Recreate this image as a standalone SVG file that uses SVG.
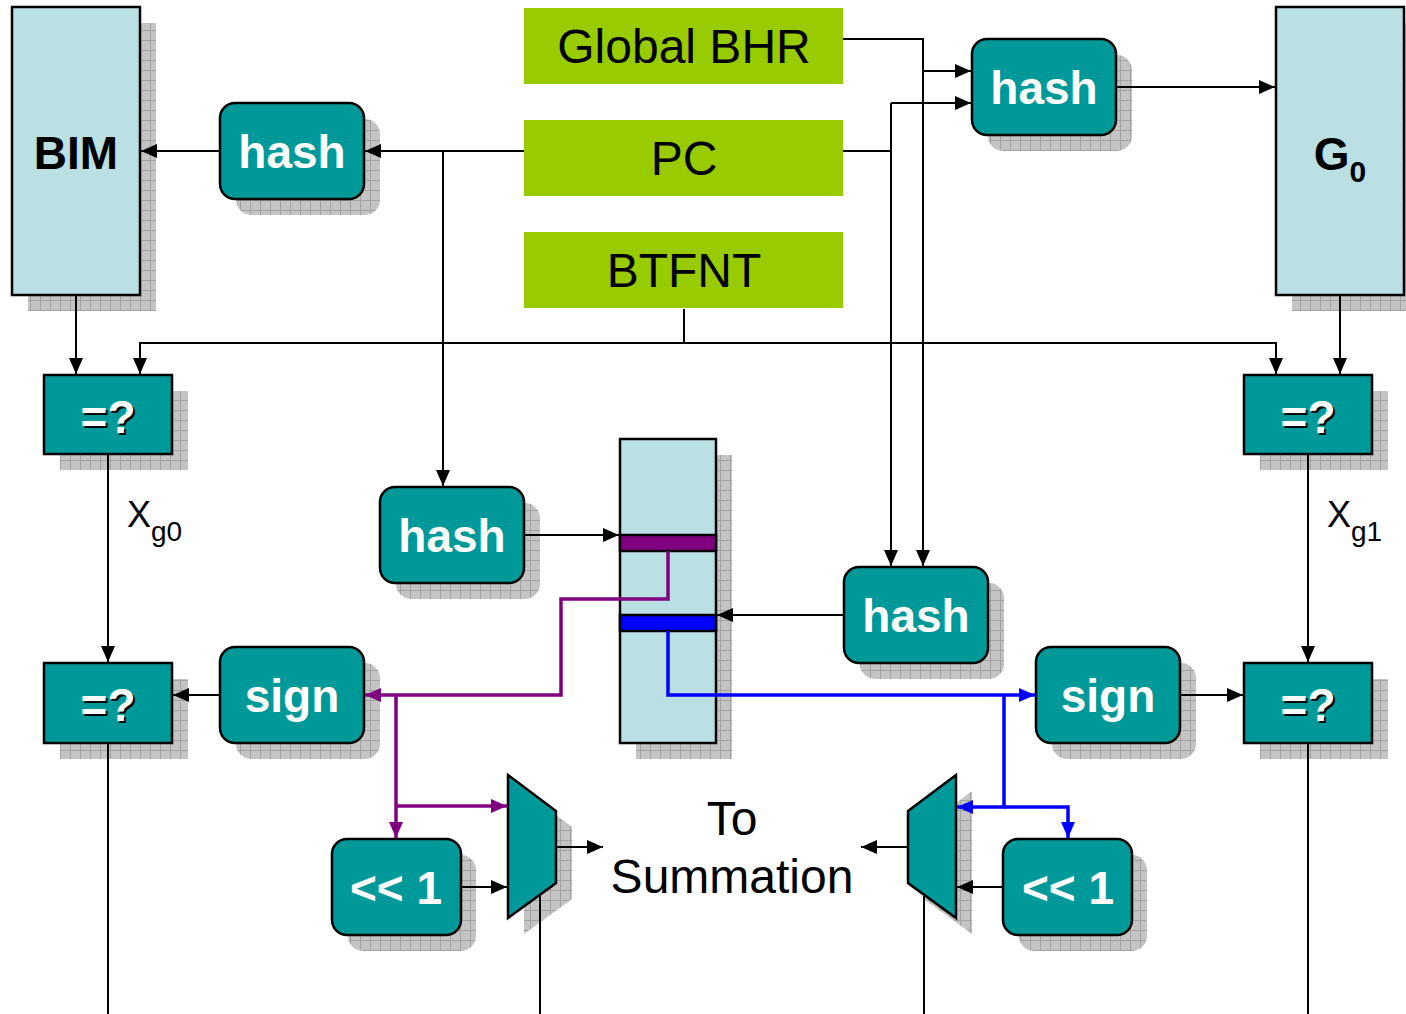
<svg xmlns="http://www.w3.org/2000/svg" width="1406" height="1014" viewBox="0 0 1406 1014">
<defs>
<pattern id="grid" patternUnits="userSpaceOnUse" width="10" height="10">
<rect width="10" height="10" fill="#c4c4c4"/>
<path d="M0,0.5 H10 M0.5,0 V10" stroke="#a2a2a2" stroke-width="1"/>
</pattern>
<marker id="ak" markerUnits="userSpaceOnUse" markerWidth="16" markerHeight="14" refX="16" refY="7" orient="auto"><path d="M0,0 L16,7 L0,14 z" fill="#000"/></marker>
<marker id="ap" markerUnits="userSpaceOnUse" markerWidth="16" markerHeight="14" refX="16" refY="7" orient="auto"><path d="M0,0 L16,7 L0,14 z" fill="#800080"/></marker>
<marker id="ab" markerUnits="userSpaceOnUse" markerWidth="16" markerHeight="14" refX="16" refY="7" orient="auto"><path d="M0,0 L16,7 L0,14 z" fill="#0000ff"/></marker>
</defs>
<style>
.sh{fill:url(#grid)}
.mem{fill:#bae0e3;stroke:#000;stroke-width:2.5}
.blk{fill:#009999;stroke:#000;stroke-width:2.5}
.src{fill:#99cc00}
.wt{font-family:"Liberation Sans",Arial,sans-serif;font-weight:bold;font-size:46px;fill:#fff;text-anchor:middle}
.bt{font-family:"Liberation Sans",Arial,sans-serif;font-weight:bold;font-size:46px;fill:#000;text-anchor:middle}
.rt{font-family:"Liberation Sans",Arial,sans-serif;font-size:48px;fill:#000;text-anchor:middle}
.lbl{font-family:"Liberation Sans",Arial,sans-serif;font-size:36px;fill:#000}
.eq{font-family:"Liberation Sans",Arial,sans-serif;font-weight:bold;font-size:46px;text-anchor:middle}
.c{fill:none;stroke:#000;stroke-width:2}
.ck{fill:none;stroke:#000;stroke-width:2;marker-end:url(#ak)}
.cp{fill:none;stroke:#800080;stroke-width:3.5;marker-end:url(#ap)}
.cb{fill:none;stroke:#0000ff;stroke-width:3.5;marker-end:url(#ab)}
</style>
<rect width="1406" height="1014" fill="#fff"/>

<g id="bim">
<rect class="sh" x="28" y="23" width="128" height="288"/>
<rect class="mem" x="12" y="7" width="128" height="288"/>
<text class="bt" x="76" y="169">BIM</text>
</g>

<g id="g0">
<rect class="sh" x="1292" y="23" width="128" height="288"/>
<rect class="mem" x="1276" y="7" width="128" height="288"/>
<text class="bt" x="1340" y="170">G<tspan font-size="30" dy="12">0</tspan></text>
</g>

<g id="global-bhr">
<rect class="src" x="524" y="8" width="319" height="76"/>
<text class="rt" x="684" y="63">Global BHR</text>
</g>
<g id="pc">
<rect class="src" x="524" y="120" width="319" height="76"/>
<text class="rt" x="684" y="175">PC</text>
</g>
<g id="btfnt">
<rect class="src" x="524" y="232" width="319" height="76"/>
<text class="rt" x="684" y="287">BTFNT</text>
</g>

<g id="hash-bim">
<rect class="sh" x="236" y="119" width="144" height="96" rx="15"/>
<rect class="blk" x="220" y="103" width="144" height="96" rx="15"/>
<text class="wt" x="292" y="168">hash</text>
</g>
<g id="hash-g0">
<rect class="sh" x="988" y="55" width="144" height="96" rx="15"/>
<rect class="blk" x="972" y="39" width="144" height="96" rx="15"/>
<text class="wt" x="1044" y="104">hash</text>
</g>
<g id="hash-pc">
<rect class="sh" x="396" y="503" width="144" height="96" rx="15"/>
<rect class="blk" x="380" y="487" width="144" height="96" rx="15"/>
<text class="wt" x="452" y="552">hash</text>
</g>
<g id="hash-ghist">
<rect class="sh" x="860" y="583" width="144" height="96" rx="15"/>
<rect class="blk" x="844" y="567" width="144" height="96" rx="15"/>
<text class="wt" x="916" y="632">hash</text>
</g>

<g id="table">
<rect class="sh" x="636" y="455" width="96" height="304"/>
<rect class="mem" x="620" y="439" width="96" height="304"/>
<rect x="620" y="535" width="96" height="16" fill="#800080" stroke="#000" stroke-width="2.5"/>
<rect x="620" y="615" width="96" height="16" fill="#0000ff" stroke="#000" stroke-width="2.5"/>
</g>

<g id="cmp-bim">
<rect class="sh" x="60" y="391" width="128" height="79"/>
<rect class="blk" x="44" y="375" width="128" height="79"/>
<text class="eq" x="110" y="435" fill="#000">=?</text>
<text class="eq" x="108" y="433" fill="#fff">=?</text>
</g>
<g id="cmp-g0">
<rect class="sh" x="1260" y="391" width="128" height="79"/>
<rect class="blk" x="1244" y="375" width="128" height="79"/>
<text class="eq" x="1310" y="435" fill="#000">=?</text>
<text class="eq" x="1308" y="433" fill="#fff">=?</text>
</g>
<g id="cmp-sign-left">
<rect class="sh" x="60" y="679" width="128" height="80"/>
<rect class="blk" x="44" y="663" width="128" height="80"/>
<text class="eq" x="110" y="723" fill="#000">=?</text>
<text class="eq" x="108" y="721" fill="#fff">=?</text>
</g>
<g id="cmp-sign-right">
<rect class="sh" x="1260" y="679" width="128" height="80"/>
<rect class="blk" x="1244" y="663" width="128" height="80"/>
<text class="eq" x="1310" y="723" fill="#000">=?</text>
<text class="eq" x="1308" y="721" fill="#fff">=?</text>
</g>

<g id="sign-left">
<rect class="sh" x="236" y="663" width="144" height="96" rx="15"/>
<rect class="blk" x="220" y="647" width="144" height="96" rx="15"/>
<text class="wt" x="292" y="712">sign</text>
</g>
<g id="sign-right">
<rect class="sh" x="1052" y="663" width="144" height="96" rx="15"/>
<rect class="blk" x="1036" y="647" width="144" height="96" rx="15"/>
<text class="wt" x="1108" y="712">sign</text>
</g>

<g id="shift-left">
<rect class="sh" x="348" y="855" width="128" height="96" rx="15"/>
<rect class="blk" x="332" y="839" width="129" height="96" rx="15"/>
<text class="wt" x="396" y="904">&lt;&lt; 1</text>
</g>
<g id="shift-right">
<rect class="sh" x="1019" y="855" width="128" height="96" rx="15"/>
<rect class="blk" x="1003" y="839" width="129" height="96" rx="15"/>
<text class="wt" x="1068" y="904">&lt;&lt; 1</text>
</g>

<g id="mux-left">
<polygon class="sh" points="524,791 572,827 572,899 524,934"/>
<polygon class="blk" points="508,775 556,811 556,883 508,918"/>
</g>
<g id="mux-right">
<polygon class="sh" points="924,827 972,791 972,934 924,899"/>
<polygon class="blk" points="908,811 956,775 956,918 908,883"/>
</g>

<g id="labels">
<text class="lbl" x="127" y="527">X<tspan font-size="28" dy="14">g0</tspan></text>
<text class="lbl" x="1327" y="527">X<tspan font-size="28" dy="14">g1</tspan></text>
<text class="rt" x="732" y="835">To</text>
<text class="rt" x="732" y="893">Summation</text>
</g>

<g id="connectors">
<path class="ck" d="M843,39 H923 V566"/>
<path class="ck" d="M923,71 H971"/>
<path class="c" d="M843,151 H891"/>
<path class="ck" d="M891,103 V566"/>
<path class="ck" d="M891,103 H971"/>
<path class="ck" d="M1116,87 H1275"/>
<path class="ck" d="M524,151 H365"/>
<path class="ck" d="M443,151 V486"/>
<path class="ck" d="M220,151 H141"/>
<path class="c" d="M684,309 V343"/>
<path class="ck" d="M684,343 H140 V374"/>
<path class="ck" d="M684,343 H1276 V374"/>
<path class="ck" d="M76,295 V374"/>
<path class="ck" d="M1340,295 V374"/>
<path class="ck" d="M108,454 V662"/>
<path class="c" d="M108,743 V1014"/>
<path class="ck" d="M1308,454 V662"/>
<path class="c" d="M1308,743 V1014"/>
<path class="ck" d="M220,695 H173"/>
<path class="ck" d="M1180,695 H1243"/>
<path class="ck" d="M524,535 H619"/>
<path class="ck" d="M844,615 H717"/>
<path class="ck" d="M461,887 H507"/>
<path class="ck" d="M556,847 H603"/>
<path class="c" d="M540,896 V1014"/>
<path class="ck" d="M1003,887 H957"/>
<path class="ck" d="M908,847 H861"/>
<path class="c" d="M924,896 V1014"/>
<path class="cp" d="M668,551 V599 H561 V695 H365"/>
<path class="cp" d="M396,695 V838"/>
<path class="cp" d="M396,806 H507"/>
<path class="cb" d="M668,631 V695 H1035"/>
<path class="cb" d="M1004,695 V807 H957"/>
<path class="cb" d="M1004,807 H1068 V838"/>
</g>
</svg>
